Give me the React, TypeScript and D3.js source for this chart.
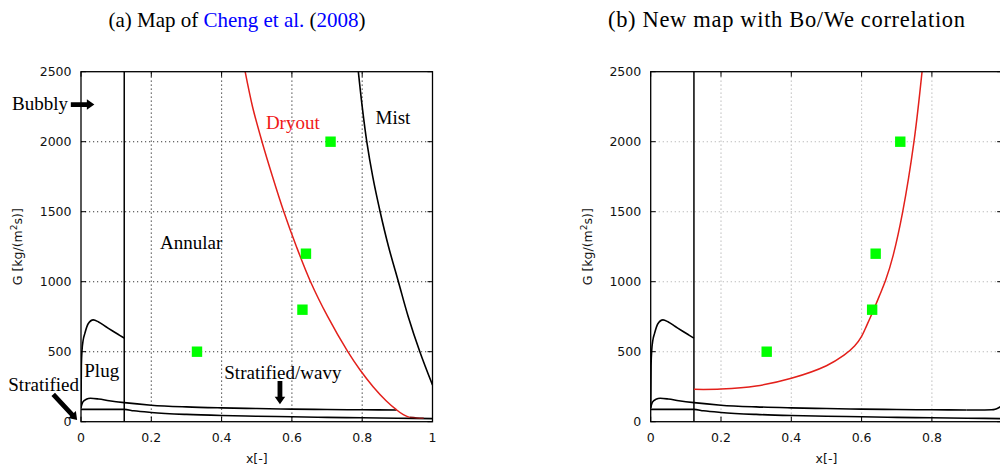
import React from 'react';
import * as d3 from 'd3';

// ---- data ----
const xTicks = [0, 0.2, 0.4, 0.6, 0.8, 1];
const xTickLabels = ['0', '0.2', '0.4', '0.6', '0.8', '1'];
const yTicks = [0, 500, 1000, 1500, 2000, 2500];
const xIA = [0.123];

const bubblyX = [0, 0.001, 0.003, 0.006, 0.011, 0.02, 0.035, 0.05, 0.07, 0.09, 0.11, 0.123];
const bubblyG = [100, 400, 512, 580, 631, 698, 727, 712, 680, 648, 617, 597];

const wavyX = [0, 0.005, 0.015, 0.027, 0.05, 0.08, 0.123, 0.2, 0.3, 0.4, 0.5, 0.6, 0.7, 0.8, 0.898];
const wavyG = [100, 140, 160, 167, 162, 150, 136, 118, 106, 99, 94, 90, 87, 85, 84];
const wavyExtX = [0.898, 0.95, 0.97, 0.98, 0.99, 1.0];
const wavyExtG = [84, 84, 85, 89, 100, 115];

const stratX = [0, 0.123, 0.15, 0.2, 0.3, 0.4, 0.5, 0.6, 0.7, 0.8, 0.9, 1.0];
const stratG = [88, 88, 78, 66, 52, 44, 39, 35, 31, 28, 25, 22];

const mistX = [0.789, 0.8, 0.813, 0.83, 0.851, 0.875, 0.903, 0.931, 0.964, 1.0];
const mistG = [2500, 2250, 2000, 1750, 1500, 1250, 1000, 750, 500, 262];

const dryX = [0.467, 0.488, 0.515, 0.545, 0.577, 0.613, 0.653, 0.702, 0.759, 0.794, 0.831, 0.868, 0.898, 0.917, 0.935];
const dryG = [2500, 2250, 2000, 1750, 1500, 1250, 1000, 750, 500, 369, 250, 150, 84, 50, 31];
const dryTailX = [0.935, 0.955, 0.975];
const dryTailG = [31, 27, 25];

const newDryX = [0.123, 0.2, 0.3, 0.4, 0.5, 0.55, 0.58, 0.6, 0.615, 0.631, 0.65, 0.669, 0.69, 0.717, 0.749, 0.772];
const newDryG = [231, 233, 255, 310, 400, 475, 540, 610, 690, 780, 895, 1015, 1190, 1500, 2000, 2500];

const ptX = [0.33, 0.63, 0.64, 0.71];
const ptG = [500, 800, 1200, 2000];

const W = 1000;
const H = 469;
const PW = 351.5;
const YTOP = 71.7;
const YBOT = 421.7;

const zip = (xs: number[], ys: number[]) => xs.map((x, i) => [x, ys[i]] as [number, number]);

function arrowPath(x1: number, y1: number, x2: number, y2: number, shaft = 4.8, headL = 7.5, headW = 10.5) {
  const dx = x2 - x1, dy = y2 - y1;
  const L = Math.hypot(dx, dy);
  const ux = dx / L, uy = dy / L;
  const nx = -uy, ny = ux;
  const bx = x2 - ux * headL, by = y2 - uy * headL;
  const p = [
    [x1 + nx * shaft / 2, y1 + ny * shaft / 2],
    [bx + nx * shaft / 2, by + ny * shaft / 2],
    [bx + nx * headW / 2, by + ny * headW / 2],
    [x2, y2],
    [bx - nx * headW / 2, by - ny * headW / 2],
    [bx - nx * shaft / 2, by - ny * shaft / 2],
    [x1 - nx * shaft / 2, y1 - ny * shaft / 2],
  ];
  return 'M' + p.map((q) => q[0].toFixed(2) + ',' + q[1].toFixed(2)).join('L') + 'Z';
}

const serif = "'Liberation Serif', 'Times New Roman', serif";
const sans = "'DejaVu Sans', sans-serif";

function Panel({ left, variant }: { left: number; variant: 'a' | 'b' }) {
  const xs = d3.scaleLinear().domain([0, 1]).range([left, left + PW]);
  const ys = d3.scaleLinear().domain([0, 2500]).range([YBOT, YTOP]);
  const line = d3
    .line<[number, number]>()
    .x((d) => xs(d[0]))
    .y((d) => ys(d[1]))
    .curve(d3.curveCatmullRom.alpha(0.5));
  const lineM = d3
    .line<[number, number]>()
    .x((d) => xs(d[0]))
    .y((d) => ys(d[1]))
    .curve(d3.curveMonotoneX);
  const clipId = 'clip-' + variant;
  const gridColor = variant === 'a' ? '#3a3a3a' : '#b5b5b5';
  const red = '#e3201b';
  const x0 = xs(0), x1 = xs(1), y0 = ys(0), y1 = ys(2500);
  const tick = 5;
  return (
    <g>
      <defs>
        <clipPath id={clipId}>
          <rect x={x0} y={y1} width={x1 - x0} height={y0 - y1} />
        </clipPath>
      </defs>
      {/* grid */}
      <g stroke={gridColor} strokeWidth={1.1} strokeDasharray="1.2,2.8">
        {xTicks.slice(1, -1).map((t) => (
          <line key={'gx' + t} x1={xs(t)} x2={xs(t)} y1={y0} y2={y1} />
        ))}
        {yTicks.slice(1, -1).map((t) => (
          <line key={'gy' + t} x1={x0} x2={x1} y1={ys(t)} y2={ys(t)} />
        ))}
      </g>
      {/* ticks */}
      <g stroke="#000" strokeWidth={1}>
        {xTicks.map((t) => (
          <g key={'tx' + t}>
            <line x1={xs(t)} x2={xs(t)} y1={y0} y2={y0 - tick} />
            <line x1={xs(t)} x2={xs(t)} y1={y1} y2={y1 + tick} />
          </g>
        ))}
        {yTicks.map((t) => (
          <g key={'ty' + t}>
            <line x1={x0} x2={x0 + tick} y1={ys(t)} y2={ys(t)} />
            <line x1={x1} x2={x1 - tick} y1={ys(t)} y2={ys(t)} />
          </g>
        ))}
      </g>
      {/* tick labels */}
      <g fontFamily={sans} fontSize={12.5} fill="#111">
        {xTicks.map((t, i) =>
          xs(t) + 6 <= W ? (
            <text key={'lx' + t} x={xs(t)} y={y0 + 20.5} textAnchor="middle">
              {xTickLabels[i]}
            </text>
          ) : null
        )}
        {yTicks.map((t) => (
          <text key={'ly' + t} x={x0 - 9.5} y={ys(t) + 4.5} textAnchor="end">
            {t}
          </text>
        ))}
      </g>
      {/* axis titles */}
      <text x={(x0 + x1) / 2} y={463} textAnchor="middle" fontFamily={sans} fontSize={12.5} fill="#111">
        x[-]
      </text>
      <text
        transform={`translate(${x0 - 59},${(y0 + y1) / 2}) rotate(-90)`}
        textAnchor="middle"
        fontFamily={sans}
        fontSize={12.5}
        fill="#111"
      >
        G [kg/(m<tspan dy={-5} fontSize={9}>2</tspan>
        <tspan dy={5}>s)]</tspan>
      </text>
      {/* curves */}
      <g clipPath={`url(#${clipId})`} fill="none" strokeLinejoin="round">
        {xIA.map((v) => (
          <line key={'ia' + v} x1={xs(v)} x2={xs(v)} y1={y0} y2={y1} stroke="#000" strokeWidth={1.5} />
        ))}
        <path d={lineM(zip(bubblyX, bubblyG)) || ''} stroke="#000" strokeWidth={1.6} />
        <path d={lineM(zip(wavyX, wavyG)) || ''} stroke="#000" strokeWidth={1.6} />
        {variant === 'b' && <path d={lineM(zip(wavyExtX, wavyExtG)) || ''} stroke="#000" strokeWidth={1.6} />}
        <path d={lineM(zip(stratX, stratG)) || ''} stroke="#000" strokeWidth={1.6} />
        {variant === 'a' && (
          <>
            <path d={line(zip(mistX, mistG)) || ''} stroke="#000" strokeWidth={1.6} />
            <path d={line(zip(dryX, dryG)) || ''} stroke={red} strokeWidth={1.5} />
            <path d={line(zip(dryTailX, dryTailG)) || ''} stroke="#7a1010" strokeWidth={1.5} />
          </>
        )}
        {variant === 'b' && <path d={line(zip(newDryX, newDryG)) || ''} stroke={red} strokeWidth={1.5} />}
      </g>
      {/* points */}
      <g fill="#00ff00">
        {ptX.map((px, i) => (
          <rect key={'p' + i} x={xs(px) - 5.2} y={ys(ptG[i]) - 5.2} width={10.4} height={10.4} />
        ))}
      </g>
      {/* frame */}
      <rect x={x0} y={y1} width={x1 - x0} height={y0 - y1} fill="none" stroke="#000" strokeWidth={1.3} />
      {/* annotations */}
      {variant === 'a' && (
        <g fontFamily={serif} fontSize={19}>
          <text x={xs(-0.1963)} y={ys(2226)} fill="#000">Bubbly</text>
          <path d={arrowPath(xs(-0.029), ys(2265), xs(0.038), ys(2265))} fill="#000" />
          <text x={xs(0.2248)} y={ys(1231)} fill="#000">Annular</text>
          <text x={xs(0.526)} y={ys(2091)} fill="#f01818">Dryout</text>
          <text x={xs(0.838)} y={ys(2124)} fill="#000">Mist</text>
          <text x={xs(0.0094)} y={ys(316)} fill="#000">Plug</text>
          <text x={xs(0.4077)} y={ys(305)} fill="#000">Stratified/wavy</text>
          <path d={arrowPath(xs(0.566), ys(291), xs(0.566), ys(124))} fill="#000" />
          <text x={xs(-0.2068)} y={ys(219)} fill="#000">Stratified</text>
          <path d={arrowPath(xs(-0.079), ys(196), xs(-0.011), ys(12))} fill="#000" />
        </g>
      )}
    </g>
  );
}

export default function App() {
  return (
    <div style={{ position: 'absolute', left: 0, top: 0, width: W, height: H, background: '#fff' }}>
      <svg width={W} height={H} style={{ display: 'block' }}>
        <rect width={W} height={H} fill="#fff" />
        <text x={237} y={27} textAnchor="middle" fontFamily={serif} fontSize={21} fill="#000">
          (a) Map of <tspan fill="#0000ff">Cheng et al.</tspan> (<tspan fill="#0000ff">2008</tspan>)
        </text>
        <text
          x={608}
          y={27}
          fontFamily={serif}
          fontSize={22.5}
          fill="#000"
          textLength={357}
          lengthAdjust="spacing"
        >
          (b) New map with Bo/We correlation
        </text>
        <Panel left={81} variant="a" />
        <Panel left={650.7} variant="b" />
      </svg>
    </div>
  );
}
